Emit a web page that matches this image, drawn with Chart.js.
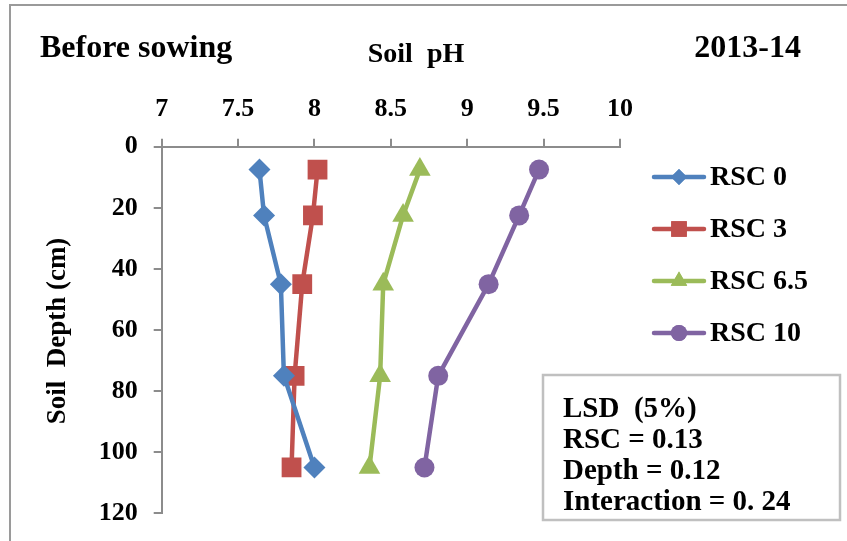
<!DOCTYPE html>
<html>
<head>
<meta charset="utf-8">
<script src="https://cdn.jsdelivr.net/npm/chart.js@4/dist/chart.umd.min.js"></script>
<style>
  html, body { margin: 0; padding: 0; background: #fff; }
  #wrap { width: 847px; height: 541px; position: relative; }
</style>
</head>
<body>
<div id="wrap"><canvas id="c" width="847" height="541"></canvas></div>
<script>
// Sampling depths (cm) and soil pH per RSC treatment
const depths = [7.5, 22.5, 45, 75, 105];
const phRSC0 = [7.64, 7.67, 7.78, 7.80, 8.00];
const phRSC3 = [8.02, 7.99, 7.92, 7.87, 7.85];
const phRSC65 = [8.69, 8.58, 8.45, 8.43, 8.36];
const phRSC10 = [9.47, 9.34, 9.14, 8.81, 8.72];

const seriesNames = ['RSC 0', 'RSC 3', 'RSC 6.5', 'RSC 10'];
const seriesColors = ['#4F81BD', '#C0504D', '#9BBB59', '#8064A2'];
const seriesMarkers = ['rectRot', 'rect', 'triangle', 'circle'];

const phTicks = [7, 7.5, 8, 8.5, 9, 9.5, 10];
const depthTicks = [0, 20, 40, 60, 80, 100, 120];

const titleLeft = 'Before sowing';
const titleCenter = 'Soil  pH';
const titleRight = '2013-14';
const depthTitle = 'Soil  Depth (cm)';
const lsdLines = ['LSD  (5%)', 'RSC = 0.13', 'Depth = 0.12', 'Interaction = 0. 24'];

const FONT = "'Liberation Serif', 'Times New Roman', serif";
const allPh = [phRSC0, phRSC3, phRSC65, phRSC10];
const markerRadius = { rectRot: 11, rect: 14, triangle: 12.5, circle: 10 };
const legendRadius = { rectRot: 8, rect: 11, triangle: 9.5, circle: 8 };

const datasets = allPh.map((vals, i) => ({
  label: seriesNames[i],
  data: depths.map((d, j) => ({ x: vals[j], y: d })),
  borderColor: seriesColors[i],
  backgroundColor: seriesColors[i],
  pointBackgroundColor: seriesColors[i],
  pointBorderColor: seriesColors[i],
  pointBorderWidth: 0,
  borderWidth: 4.5,
  pointStyle: seriesMarkers[i],
  pointRadius: markerRadius[seriesMarkers[i]],
  pointHoverRadius: markerRadius[seriesMarkers[i]],
  tension: 0,
  fill: false
}));

// keep the plot box fixed regardless of tick label overhang
function noScalePadding(s) {
  s.paddingTop = 0;
  s.paddingBottom = 0;
  s.paddingLeft = 0;
  s.paddingRight = 0;
}

const decorations = {
  id: 'decorations',
  afterDraw(chart) {
    const ctx = chart.ctx;
    ctx.save();

    // outer frame (top and left edges visible)
    ctx.strokeStyle = '#9a9a9a';
    ctx.lineWidth = 2;
    ctx.beginPath();
    ctx.moveTo(10, 545);
    ctx.lineTo(10, 5);
    ctx.lineTo(850, 5);
    ctx.stroke();

    // headings
    ctx.fillStyle = '#000';
    ctx.textBaseline = 'alphabetic';
    ctx.font = `bold 32px ${FONT}`;
    ctx.textAlign = 'left';
    ctx.fillText(titleLeft, 40, 57);
    ctx.textAlign = 'right';
    ctx.fillText(titleRight, 801, 57);
    ctx.font = `bold 28px ${FONT}`;
    ctx.textAlign = 'center';
    ctx.fillText(titleCenter, 416, 62);

    // vertical axis title
    ctx.save();
    ctx.translate(58, 331);
    ctx.rotate(-Math.PI / 2);
    ctx.font = `bold 27px ${FONT}`;
    ctx.textAlign = 'center';
    ctx.textBaseline = 'middle';
    ctx.fillText(depthTitle, 0, 0);
    ctx.restore();

    // legend
    const rows = [177, 229, 281, 333];
    chart.data.datasets.forEach((ds, i) => {
      const y = rows[i];
      ctx.strokeStyle = ds.borderColor;
      ctx.lineWidth = 4.5;
      ctx.lineCap = 'round';
      ctx.beginPath();
      ctx.moveTo(654, y);
      ctx.lineTo(704, y);
      ctx.stroke();
      ctx.fillStyle = ds.backgroundColor;
      Chart.helpers.drawPoint(ctx, {
        pointStyle: ds.pointStyle,
        radius: legendRadius[ds.pointStyle],
        rotation: 0,
        borderWidth: 0
      }, 679, y);
      ctx.fill();
      ctx.fillStyle = '#000';
      ctx.font = `bold 28px ${FONT}`;
      ctx.textAlign = 'left';
      ctx.textBaseline = 'middle';
      ctx.fillText(ds.label, 710, y + 1);
    });

    // LSD note box
    ctx.fillStyle = '#fff';
    ctx.fillRect(543, 375, 297, 145);
    ctx.strokeStyle = '#c0c0c0';
    ctx.lineWidth = 2.5;
    ctx.strokeRect(543, 375, 297, 145);
    ctx.fillStyle = '#000';
    ctx.font = `bold 29px ${FONT}`;
    ctx.textAlign = 'left';
    ctx.textBaseline = 'middle';
    lsdLines.forEach((t, i) => ctx.fillText(t, 563, 410 + i * 31));

    ctx.restore();
  }
};

new Chart(document.getElementById('c'), {
  type: 'line',
  data: { datasets },
  options: {
    responsive: false,
    animation: false,
    devicePixelRatio: 1,
    layout: { padding: { top: 0, left: 0, right: 227, bottom: 27.7 } },
    plugins: { legend: { display: false }, tooltip: { enabled: false } },
    elements: { line: { borderJoinStyle: 'round', borderCapStyle: 'round' } },
    scales: {
      x: {
        type: 'linear',
        position: 'top',
        min: 7,
        max: 10,
        afterBuildTicks: s => { s.ticks = phTicks.map(v => ({ value: v })); },
        afterFit: s => { s.height = 146.7; noScalePadding(s); },
        ticks: {
          color: '#000',
          padding: 14,
          maxRotation: 0,
          autoSkip: false,
          font: { family: FONT, size: 26, weight: 'bold' },
          callback: v => String(v)
        },
        grid: { drawOnChartArea: false, drawTicks: true, tickLength: 8, color: '#8c8c8c', lineWidth: 2 },
        border: { display: true, color: '#8c8c8c', width: 2 }
      },
      y: {
        type: 'linear',
        reverse: true,
        min: 0,
        max: 120,
        afterBuildTicks: s => { s.ticks = depthTicks.map(v => ({ value: v })); },
        afterFit: s => { s.width = 161.7; noScalePadding(s); },
        ticks: {
          color: '#000',
          padding: 16,
          autoSkip: false,
          font: { family: FONT, size: 26, weight: 'bold' },
          callback: v => String(v)
        },
        grid: { drawOnChartArea: false, drawTicks: true, tickLength: 8, color: '#8c8c8c', lineWidth: 2 },
        border: { display: true, color: '#8c8c8c', width: 2 }
      }
    }
  },
  plugins: [decorations]
});
</script>
</body>
</html>
